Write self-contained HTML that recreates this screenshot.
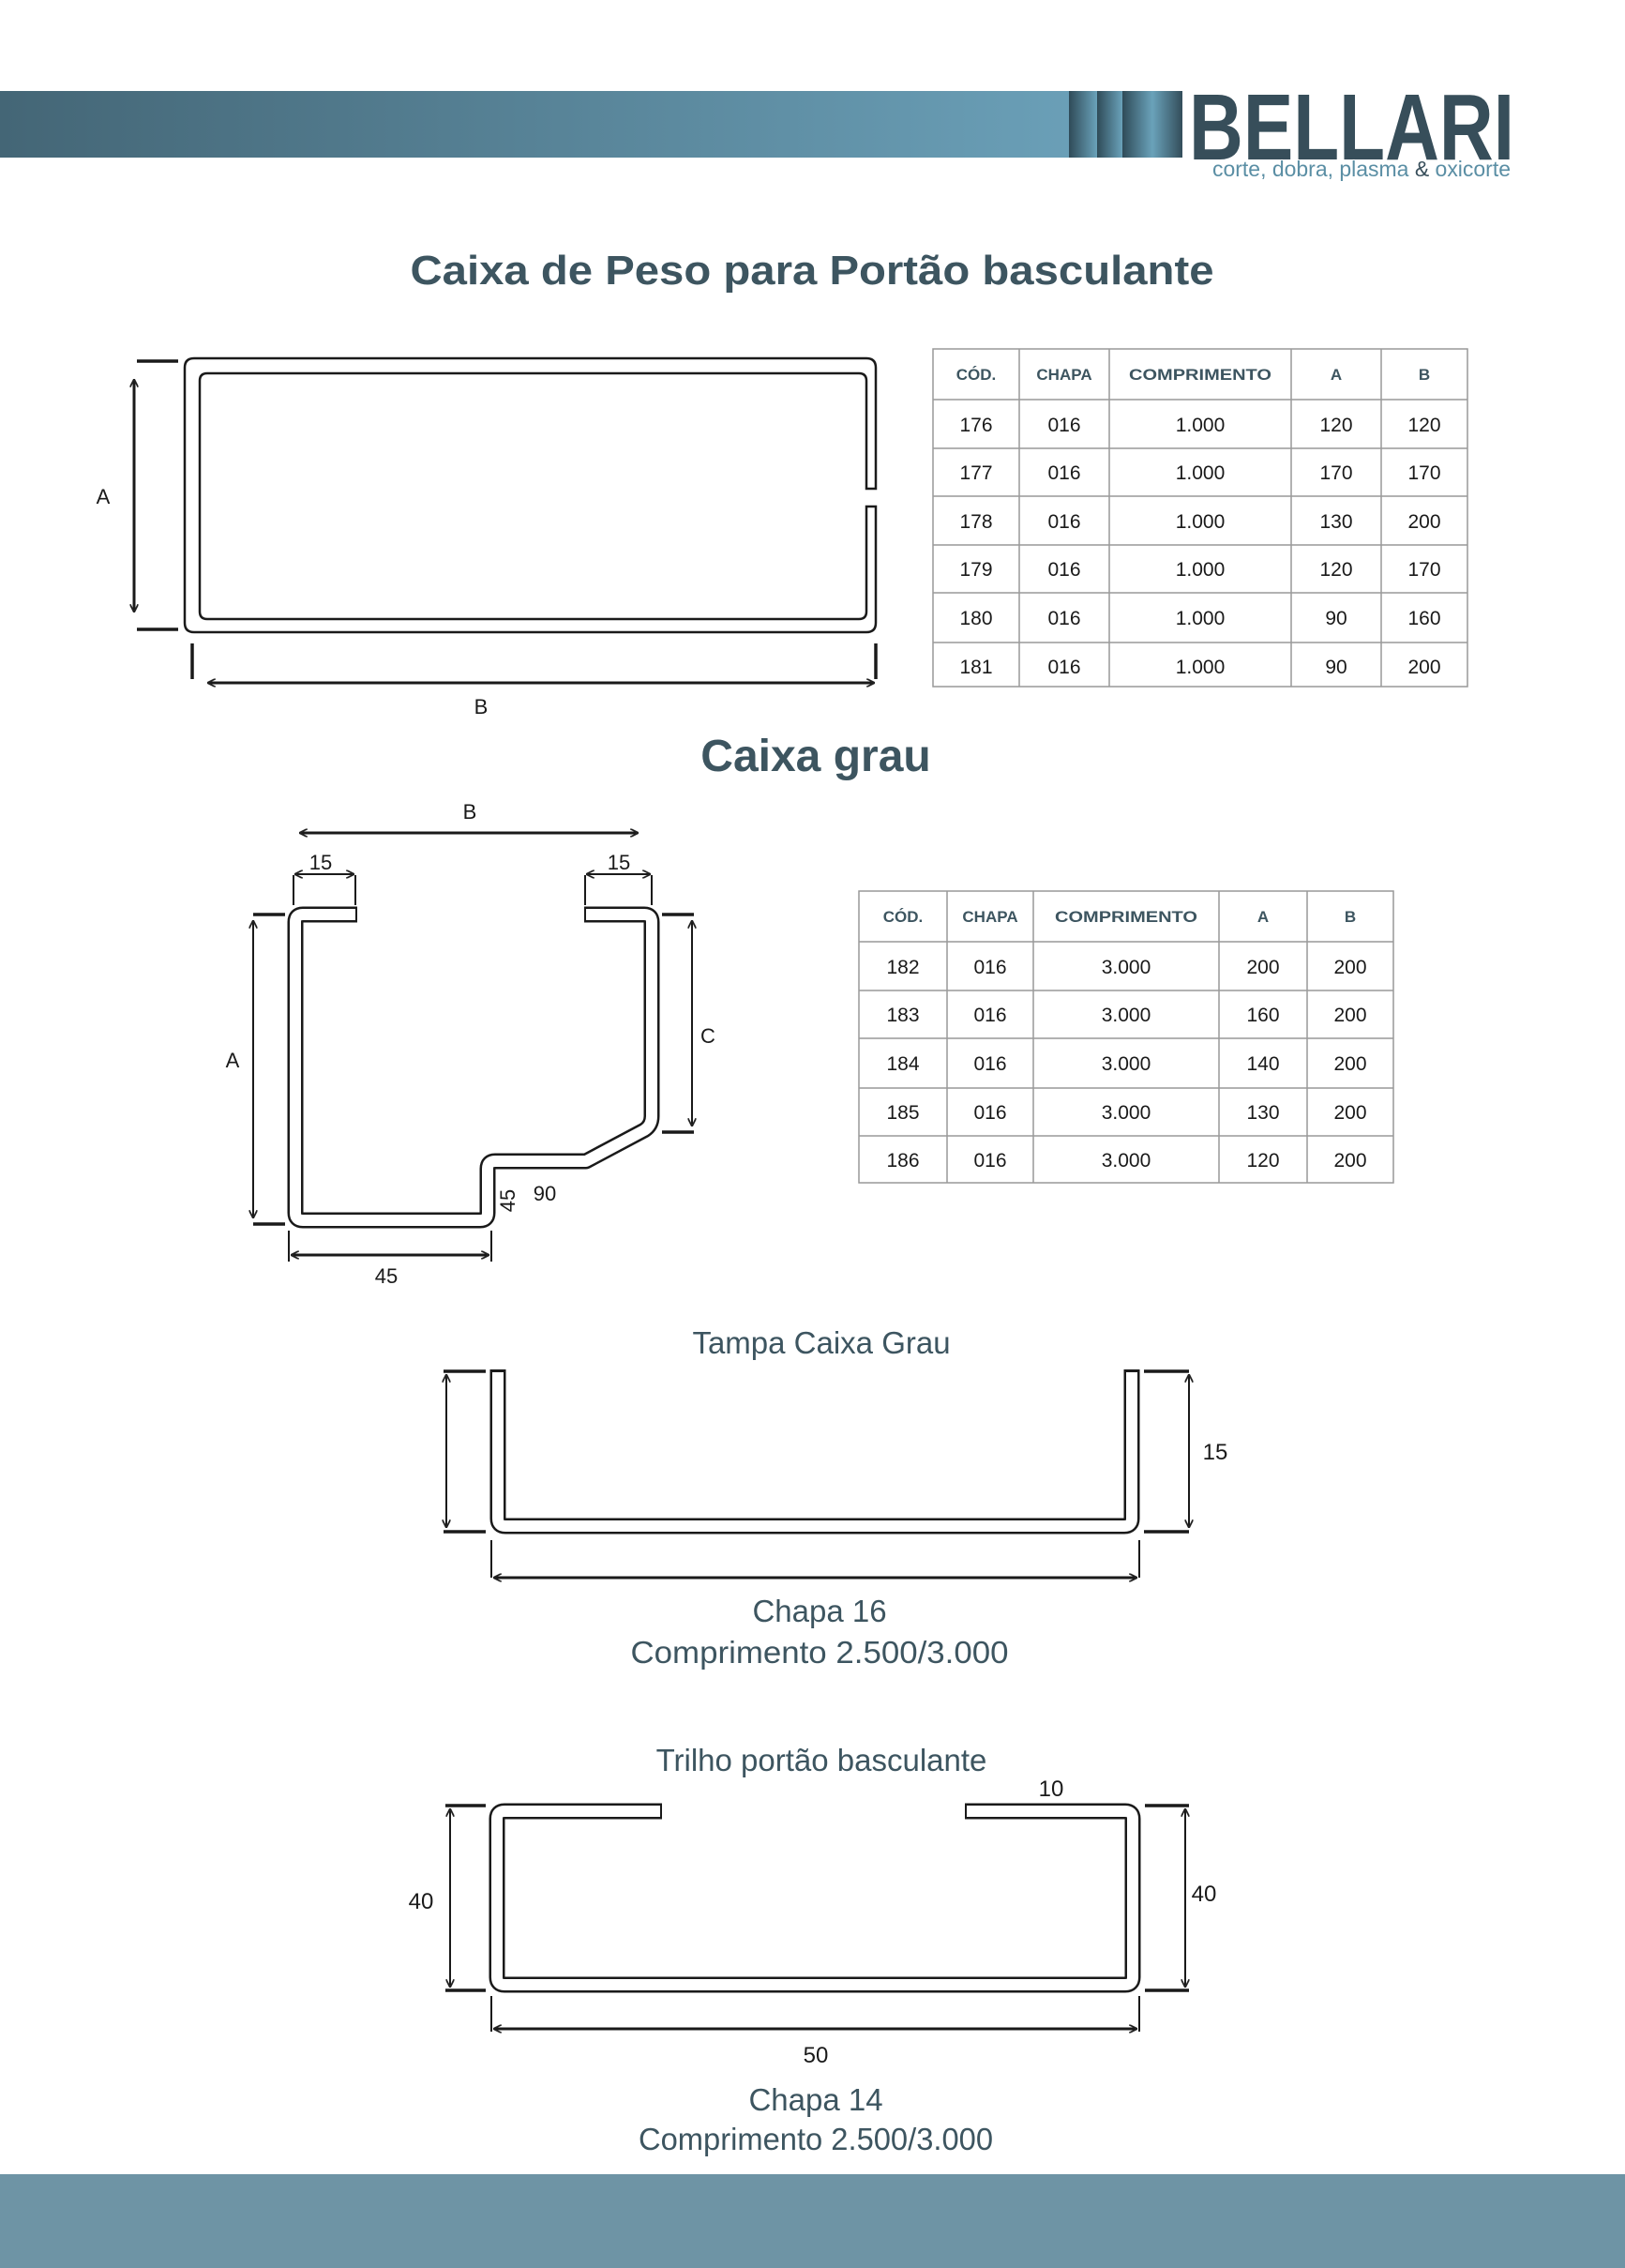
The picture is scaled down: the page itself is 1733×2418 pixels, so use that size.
<!DOCTYPE html>
<html><head><meta charset="utf-8"><style>
html,body{margin:0;padding:0;background:#fff}
svg{display:block}
text{font-family:"Liberation Sans",sans-serif}
</style></head><body>
<svg width="1733" height="2418" viewBox="0 0 1733 2418" xmlns="http://www.w3.org/2000/svg">
<defs>
<linearGradient id="band" x1="0" x2="1" y1="0" y2="0">
<stop offset="0" stop-color="#446676"/><stop offset="1" stop-color="#6a9fb7"/></linearGradient>
<linearGradient id="st" x1="0" x2="1" y1="0" y2="0">
<stop offset="0" stop-color="#2f4b58"/><stop offset="1" stop-color="#6aa2ba"/></linearGradient>
<linearGradient id="st2" x1="0" x2="1" y1="0" y2="0">
<stop offset="0" stop-color="#2f4b58"/><stop offset="0.5" stop-color="#6aa2ba"/><stop offset="1" stop-color="#334d5a"/></linearGradient>
<marker id="ar" viewBox="0 0 10 10" refX="9" refY="5" markerWidth="9" markerHeight="9" orient="auto-start-reverse" markerUnits="userSpaceOnUse">
<path d="M0,0 L10,5 L0,10" fill="none" stroke="#222" stroke-width="2"/></marker>
</defs>

<!-- header -->
<rect x="0" y="97" width="1140" height="71" fill="url(#band)"/>
<rect x="1140" y="97" width="30" height="71" fill="url(#st)"/>
<rect x="1170" y="97" width="27" height="71" fill="url(#st)"/>
<rect x="1197" y="97" width="64" height="71" fill="url(#st2)"/>
<text x="1268" y="170" font-size="100" font-weight="bold" fill="#374e5a" textLength="347" lengthAdjust="spacingAndGlyphs">BELLARI</text>
<text x="1293" y="188" font-size="23" fill="#5a8ea4" textLength="318" lengthAdjust="spacingAndGlyphs">corte, dobra, plasma <tspan fill="#374e5a">&amp;</tspan> oxicorte</text>

<!-- title 1 -->
<text x="866" y="303" font-size="44" font-weight="bold" fill="#3d5560" text-anchor="middle" textLength="857" lengthAdjust="spacingAndGlyphs">Caixa de Peso para Portão basculante</text>

<!-- drawing 1 -->
<g fill="none" stroke="#1a1a1a" stroke-width="2.5">
<path d="M934,521 L934,392 Q934,382 924,382 L207,382 Q197,382 197,392 L197,664 Q197,674 207,674 L924,674 Q934,674 934,664 L934,540 L924,540 L924,652 Q924,660 916,660 L221,660 Q213,660 213,652 L213,406 Q213,398 221,398 L916,398 Q924,398 924,406 L924,521 Z"/>
</g>
<g stroke="#1a1a1a" stroke-width="3.5">
<line x1="146" y1="385" x2="190" y2="385"/><line x1="146" y1="671" x2="190" y2="671"/>
<line x1="205" y1="686" x2="205" y2="724"/><line x1="934" y1="686" x2="934" y2="724"/>
</g>
<g stroke="#1a1a1a" stroke-width="3" marker-start="url(#ar)" marker-end="url(#ar)">
<line x1="143" y1="405" x2="143" y2="652"/>
<line x1="222" y1="728" x2="932" y2="728"/>
</g>
<text x="110" y="537" font-size="22" fill="#1a1a1a" text-anchor="middle">A</text>
<text x="513" y="761" font-size="22" fill="#1a1a1a" text-anchor="middle">B</text>

<!-- table 1 -->
<g stroke="#999" stroke-width="1.5" fill="none">
<rect x="995" y="372" width="570" height="360"/>
<line x1="1087" y1="372" x2="1087" y2="732"/><line x1="1183" y1="372" x2="1183" y2="732"/>
<line x1="1377" y1="372" x2="1377" y2="732"/><line x1="1473" y1="372" x2="1473" y2="732"/>
<line x1="995" y1="426" x2="1565" y2="426"/><line x1="995" y1="478" x2="1565" y2="478"/>
<line x1="995" y1="529" x2="1565" y2="529"/><line x1="995" y1="581" x2="1565" y2="581"/>
<line x1="995" y1="632" x2="1565" y2="632"/><line x1="995" y1="685" x2="1565" y2="685"/>
</g>
<g font-size="17" font-weight="bold" fill="#3d5560" text-anchor="middle">
<text x="1041" y="405">CÓD.</text><text x="1135" y="405">CHAPA</text><text x="1280" y="405" textLength="152" lengthAdjust="spacingAndGlyphs">COMPRIMENTO</text><text x="1425" y="405">A</text><text x="1519" y="405">B</text>
</g>
<g font-size="21" fill="#1a1a1a" text-anchor="middle">
<text x="1041" y="460">176</text><text x="1135" y="460">016</text><text x="1280" y="460">1.000</text><text x="1425" y="460">120</text><text x="1519" y="460">120</text>
<text x="1041" y="511">177</text><text x="1135" y="511">016</text><text x="1280" y="511">1.000</text><text x="1425" y="511">170</text><text x="1519" y="511">170</text>
<text x="1041" y="563">178</text><text x="1135" y="563">016</text><text x="1280" y="563">1.000</text><text x="1425" y="563">130</text><text x="1519" y="563">200</text>
<text x="1041" y="614">179</text><text x="1135" y="614">016</text><text x="1280" y="614">1.000</text><text x="1425" y="614">120</text><text x="1519" y="614">170</text>
<text x="1041" y="666">180</text><text x="1135" y="666">016</text><text x="1280" y="666">1.000</text><text x="1425" y="666">90</text><text x="1519" y="666">160</text>
<text x="1041" y="718">181</text><text x="1135" y="718">016</text><text x="1280" y="718">1.000</text><text x="1425" y="718">90</text><text x="1519" y="718">200</text>
</g>

<!-- title 2 -->
<text x="870" y="822" font-size="48" font-weight="bold" fill="#3d5560" text-anchor="middle">Caixa grau</text>

<!-- drawing 2 -->
<path d="M381,975 L323,975 Q315,975 315,983 L315,1293 Q315,1301 323,1301 L512,1301 Q520,1301 520,1293 L520,1246 Q520,1238 528,1238 L625,1238 L687,1205 Q695,1200 695,1190 L695,983 Q695,975 687,975 L623,975" fill="none" stroke="#1a1a1a" stroke-width="17" stroke-linejoin="round"/>
<path d="M379,975 L323,975 Q315,975 315,983 L315,1293 Q315,1301 323,1301 L512,1301 Q520,1301 520,1293 L520,1246 Q520,1238 528,1238 L625,1238 L687,1205 Q695,1200 695,1190 L695,983 Q695,975 687,975 L625,975" fill="none" stroke="#fff" stroke-width="12" stroke-linejoin="round"/>
<g stroke="#1a1a1a" stroke-width="3.5">
<line x1="270" y1="975" x2="304" y2="975"/><line x1="270" y1="1305" x2="304" y2="1305"/>
<line x1="706" y1="975" x2="740" y2="975"/><line x1="706" y1="1207" x2="740" y2="1207"/>
</g>
<g stroke="#1a1a1a" stroke-width="2">
<line x1="313" y1="933" x2="313" y2="965"/><line x1="379" y1="933" x2="379" y2="965"/>
<line x1="624" y1="933" x2="624" y2="965"/><line x1="695" y1="933" x2="695" y2="965"/>
<line x1="308" y1="1312" x2="308" y2="1345"/><line x1="524" y1="1312" x2="524" y2="1345"/>
</g>
<g stroke="#1a1a1a" stroke-width="3" marker-start="url(#ar)" marker-end="url(#ar)">
<line x1="320" y1="888" x2="680" y2="888"/>
<line x1="315" y1="932" x2="377" y2="932" stroke-width="2"/>
<line x1="626" y1="932" x2="693" y2="932" stroke-width="2"/>
<line x1="270" y1="982" x2="270" y2="1298" stroke-width="2"/>
<line x1="738" y1="982" x2="738" y2="1200" stroke-width="2"/>
<line x1="311" y1="1338" x2="521" y2="1338"/>
</g>
<g font-size="22" fill="#1a1a1a" text-anchor="middle">
<text x="501" y="873">B</text>
<text x="342" y="927">15</text><text x="660" y="927">15</text>
<text x="248" y="1138">A</text><text x="755" y="1112">C</text>
<text x="581" y="1280">90</text>
<text x="412" y="1368">45</text>
<text transform="translate(549,1280) rotate(-90)">45</text>
</g>

<!-- table 2 -->
<g stroke="#999" stroke-width="1.5" fill="none">
<rect x="916" y="950" width="570" height="311"/>
<line x1="1010" y1="950" x2="1010" y2="1261"/><line x1="1102" y1="950" x2="1102" y2="1261"/>
<line x1="1300" y1="950" x2="1300" y2="1261"/><line x1="1394" y1="950" x2="1394" y2="1261"/>
<line x1="916" y1="1004" x2="1486" y2="1004"/><line x1="916" y1="1056" x2="1486" y2="1056"/>
<line x1="916" y1="1107" x2="1486" y2="1107"/><line x1="916" y1="1160" x2="1486" y2="1160"/>
<line x1="916" y1="1211" x2="1486" y2="1211"/>
</g>
<g font-size="17" font-weight="bold" fill="#3d5560" text-anchor="middle">
<text x="963" y="983">CÓD.</text><text x="1056" y="983">CHAPA</text><text x="1201" y="983" textLength="152" lengthAdjust="spacingAndGlyphs">COMPRIMENTO</text><text x="1347" y="983">A</text><text x="1440" y="983">B</text>
</g>
<g font-size="21" fill="#1a1a1a" text-anchor="middle">
<text x="963" y="1038">182</text><text x="1056" y="1038">016</text><text x="1201" y="1038">3.000</text><text x="1347" y="1038">200</text><text x="1440" y="1038">200</text>
<text x="963" y="1089">183</text><text x="1056" y="1089">016</text><text x="1201" y="1089">3.000</text><text x="1347" y="1089">160</text><text x="1440" y="1089">200</text>
<text x="963" y="1141">184</text><text x="1056" y="1141">016</text><text x="1201" y="1141">3.000</text><text x="1347" y="1141">140</text><text x="1440" y="1141">200</text>
<text x="963" y="1193">185</text><text x="1056" y="1193">016</text><text x="1201" y="1193">3.000</text><text x="1347" y="1193">130</text><text x="1440" y="1193">200</text>
<text x="963" y="1244">186</text><text x="1056" y="1244">016</text><text x="1201" y="1244">3.000</text><text x="1347" y="1244">120</text><text x="1440" y="1244">200</text>
</g>

<!-- Tampa -->
<text x="876" y="1443" font-size="33" fill="#3d5560" text-anchor="middle">Tampa Caixa Grau</text>
<path d="M531,1460 L531,1619 Q531,1627 539,1627 L1199,1627 Q1207,1627 1207,1619 L1207,1460" fill="none" stroke="#1a1a1a" stroke-width="17" stroke-linejoin="round"/>
<path d="M531,1463 L531,1619 Q531,1627 539,1627 L1199,1627 Q1207,1627 1207,1619 L1207,1463" fill="none" stroke="#fff" stroke-width="12" stroke-linejoin="round"/>
<g stroke="#1a1a1a" stroke-width="3.5">
<line x1="473" y1="1462" x2="518" y2="1462"/><line x1="473" y1="1633" x2="518" y2="1633"/>
<line x1="1220" y1="1462" x2="1268" y2="1462"/><line x1="1220" y1="1633" x2="1268" y2="1633"/>
</g>
<g stroke="#1a1a1a" stroke-width="2">
<line x1="524" y1="1642" x2="524" y2="1682"/><line x1="1215" y1="1642" x2="1215" y2="1682"/>
</g>
<g stroke="#1a1a1a" stroke-width="3" marker-start="url(#ar)" marker-end="url(#ar)">
<line x1="476" y1="1466" x2="476" y2="1628" stroke-width="2"/>
<line x1="1268" y1="1466" x2="1268" y2="1628" stroke-width="2"/>
<line x1="527" y1="1682" x2="1212" y2="1682"/>
</g>
<text x="1296" y="1556" font-size="24" fill="#1a1a1a" text-anchor="middle">15</text>
<text x="874" y="1729" font-size="33" fill="#3d5560" text-anchor="middle">Chapa 16</text>
<text x="874" y="1773" font-size="33" fill="#3d5560" text-anchor="middle" textLength="403" lengthAdjust="spacingAndGlyphs">Comprimento 2.500/3.000</text>

<!-- Trilho -->
<text x="876" y="1888" font-size="33" fill="#3d5560" text-anchor="middle">Trilho portão basculante</text>
<path d="M706,1931 L538,1931 Q530,1931 530,1939 L530,2108 Q530,2116 538,2116 L1200,2116 Q1208,2116 1208,2108 L1208,1939 Q1208,1931 1200,1931 L1029,1931" fill="none" stroke="#1a1a1a" stroke-width="17" stroke-linejoin="round"/>
<path d="M704,1931 L538,1931 Q530,1931 530,1939 L530,2108 Q530,2116 538,2116 L1200,2116 Q1208,2116 1208,2108 L1208,1939 Q1208,1931 1200,1931 L1031,1931" fill="none" stroke="#fff" stroke-width="12" stroke-linejoin="round"/>
<g stroke="#1a1a1a" stroke-width="3.5">
<line x1="475" y1="1925" x2="518" y2="1925"/><line x1="475" y1="2122" x2="518" y2="2122"/>
<line x1="1221" y1="1925" x2="1268" y2="1925"/><line x1="1221" y1="2122" x2="1268" y2="2122"/>
</g>
<g stroke="#1a1a1a" stroke-width="2">
<line x1="524" y1="2128" x2="524" y2="2166"/><line x1="1215" y1="2128" x2="1215" y2="2166"/>
</g>
<g stroke="#1a1a1a" stroke-width="3" marker-start="url(#ar)" marker-end="url(#ar)">
<line x1="480" y1="1929" x2="480" y2="2118" stroke-width="2"/>
<line x1="1264" y1="1929" x2="1264" y2="2118" stroke-width="2"/>
<line x1="527" y1="2163" x2="1212" y2="2163"/>
</g>
<g font-size="24" fill="#1a1a1a" text-anchor="middle">
<text x="1121" y="1915">10</text>
<text x="449" y="2035">40</text><text x="1284" y="2027">40</text>
<text x="870" y="2199">50</text>
</g>
<text x="870" y="2250" font-size="33" fill="#3d5560" text-anchor="middle">Chapa 14</text>
<text x="870" y="2292" font-size="33" fill="#3d5560" text-anchor="middle" textLength="378" lengthAdjust="spacingAndGlyphs">Comprimento 2.500/3.000</text>

<!-- footer -->
<rect x="0" y="2318" width="1733" height="100" fill="#6e94a5"/>
</svg>
</body></html>
